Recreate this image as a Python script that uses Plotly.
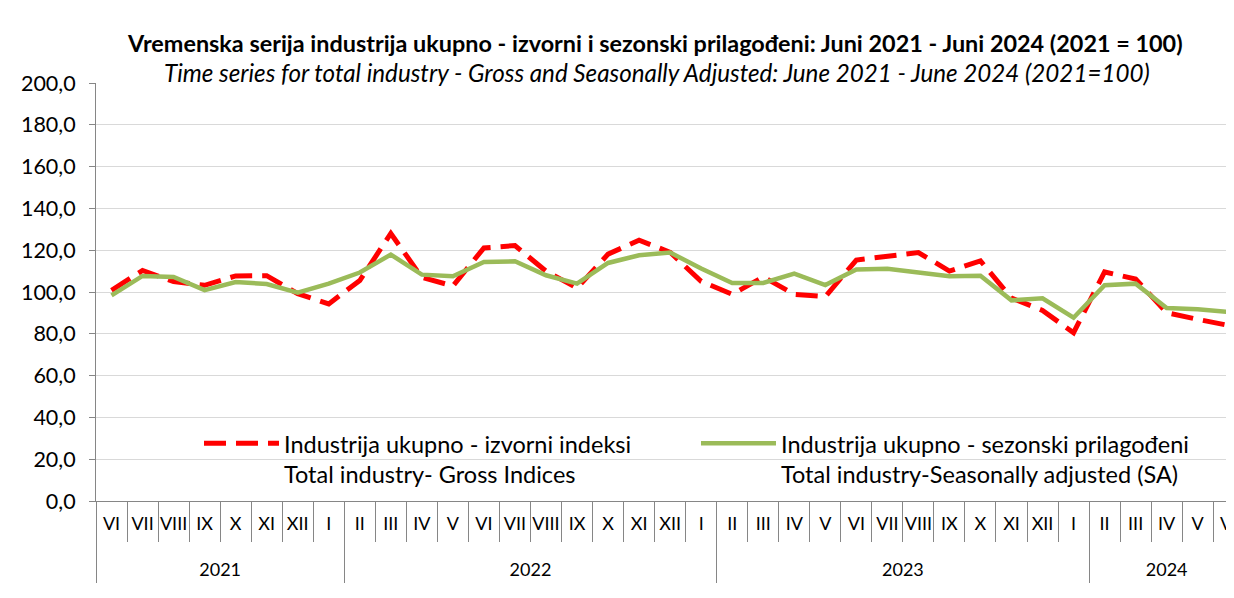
import plotly.graph_objects as go

# ---- data ----
month_labels = ["VI", "VII", "VIII", "IX", "X", "XI", "XII", "I",
                "II", "III", "IV", "V", "VI", "VII", "VIII", "IX", "X", "XI", "XII", "I",
                "II", "III", "IV", "V", "VI", "VII", "VIII", "IX", "X", "XI", "XII", "I",
                "II", "III", "IV", "V", "VI"]
year_labels = ["2021", "2022", "2023", "2024"]
year_sizes = [8, 12, 12, 5]          # number of month slots under each year label

gross = [100.8, 110.3, 105.0, 103.2, 107.7, 107.8, 99.2, 94.3,
         105.5, 128.0, 107.0, 102.9, 121.1, 122.2, 110.0, 101.9, 118.1, 124.8, 119.0, 105.1,
         98.9, 107.2, 98.9, 97.8, 115.3, 117.0, 118.9, 110.0, 114.9, 97.1, 91.2, 80.5,
         109.6, 106.2, 90.1, 86.9, 84.0]
sa = [98.4, 107.7, 107.2, 100.9, 104.8, 103.8, 99.7, 104.0,
      109.3, 117.9, 108.3, 107.5, 114.4, 114.7, 108.0, 104.0, 113.9, 117.6, 118.9, 111.2,
      104.3, 104.3, 108.8, 103.3, 110.8, 111.1, 109.3, 107.5, 107.8, 96.0, 97.0, 87.7,
      103.2, 104.0, 92.3, 91.8, 90.4]

name_gross = "Industrija ukupno - izvorni indeksi<br>Total industry- Gross Indices"
name_sa = "Industrija ukupno - sezonski prilagođeni<br>Total industry-Seasonally adjusted (SA)"
title_1 = "<b>Vremenska serija industrija ukupno - izvorni i sezonski prilagođeni: Juni 2021 - Juni 2024 (2021 = 100)</b>"
title_2 = "<i>Time series for total industry - Gross and Seasonally Adjusted: June 2021 - June 2024 (2021=100)</i>"

FONT = "Lato"
AXIS = "#868686"

# slot positions derived from the label lists
idx = list(range(len(month_labels)))
bounds = [i - 0.5 for i in range(len(month_labels) + 1)]
year_edges = [-0.5]
for n in year_sizes:
    year_edges.append(year_edges[-1] + n)
year_centers = [(a + b) / 2 for a, b in zip(year_edges[:-1], year_edges[1:])]
XR = [-0.5, 36.17]

fig = go.Figure()
fig.add_trace(go.Scatter(
    x=idx, y=gross, mode="lines", name=name_gross,
    line=dict(color="#FF0000", width=5, dash="22px,10px"),
))
fig.add_trace(go.Scatter(
    x=idx, y=sa, mode="lines", name=name_sa,
    line=dict(color="#9BBB59", width=4.5),
))
# invisible helper so the year axis is drawn
fig.add_trace(go.Scatter(
    x=idx, y=sa, mode="lines", xaxis="x2", showlegend=False, hoverinfo="skip",
    line=dict(color="rgba(0,0,0,0)", width=0),
))

# the page body has an 8px default margin: figure is sized/offset to compensate
fig.update_layout(
    width=1226, height=590,
    margin=dict(l=88, r=0, t=75, b=97, autoexpand=False),
    paper_bgcolor="white", plot_bgcolor="white",
    separators=",.",
    font=dict(family=FONT, size=18, color="#000000"),
    showlegend=True,
    legend=dict(
        orientation="h", x=0.0905, xanchor="left", y=0.19, yanchor="top",
        valign="top",
        font=dict(family=FONT, size=23.5, color="#000000"),
        entrywidth=407, entrywidthmode="pixels",
        bgcolor="rgba(0,0,0,0)", itemwidth=75,
    ),
    annotations=[
        dict(text=title_1, x=0.491, y=1.0957, xref="paper", yref="paper",
             xanchor="center", yanchor="middle", showarrow=False,
             font=dict(family=FONT, size=23.4, color="#000000")),
        dict(text=title_2, x=0.493, y=1.024, xref="paper", yref="paper",
             xanchor="center", yanchor="middle", showarrow=False,
             font=dict(family=FONT, size=24.2, color="#000000")),
    ],
    xaxis=dict(
        range=XR, showgrid=False, zeroline=False, automargin=False,
        showline=True, linecolor=AXIS, linewidth=1,
        tickmode="array", tickvals=idx, ticktext=month_labels, tickangle=0,
        ticks="", ticklabelstandoff=6, ticklabeloverflow="allow",
        tickfont=dict(family=FONT, size=18, color="#000000"),
        minor=dict(tickmode="array", tickvals=bounds, ticks="outside",
                   ticklen=40, tickcolor=AXIS, tickwidth=1, showgrid=False),
    ),
    xaxis2=dict(
        overlaying="x", anchor="y", side="bottom", automargin=False,
        range=XR, showgrid=False, zeroline=False, showline=False,
        tickmode="array", tickvals=year_centers, ticktext=year_labels, tickangle=0,
        ticks="", ticklabelstandoff=56, ticklabeloverflow="allow",
        tickfont=dict(family=FONT, size=18, color="#000000"),
        minor=dict(tickmode="array", tickvals=year_edges, ticks="outside",
                   ticklen=81, tickcolor=AXIS, tickwidth=1, showgrid=False),
    ),
)

fig.update_yaxes(
    range=[0, 200], dtick=20, tickformat=".1f", automargin=False,
    showgrid=True, gridcolor="#D9D9D9", gridwidth=1,
    showline=True, linecolor=AXIS, linewidth=1,
    ticks="outside", ticklen=6, tickcolor=AXIS,
    ticklabelstandoff=9,
    tickfont=dict(family=FONT, size=21.5, color="#000000"),
    zeroline=False,
)

fig.write_html("out.html")
